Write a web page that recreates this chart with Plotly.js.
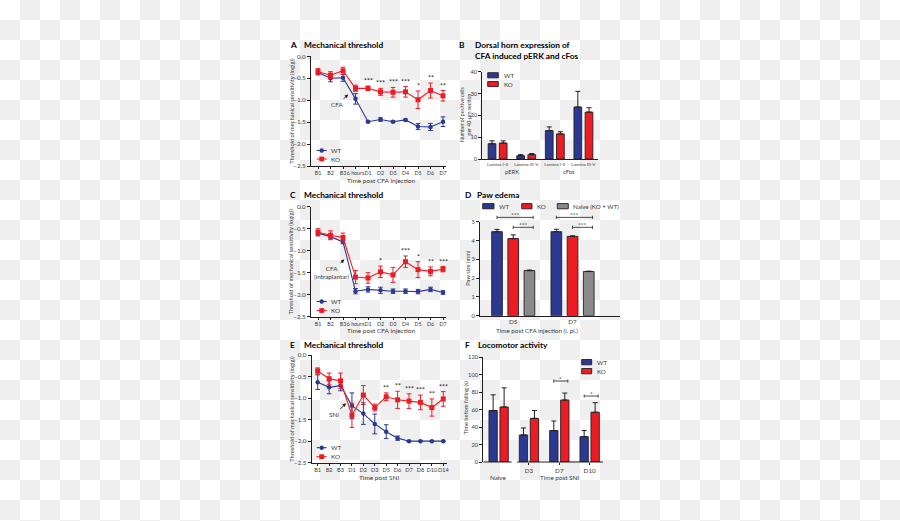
<!DOCTYPE html>
<html><head><meta charset="utf-8">
<script src="https://cdn.plot.ly/plotly-3.0.1.min.js"></script>
<style>
html,body{margin:0;padding:0;}
body{width:900px;height:521px;background-color:#fff;background-image:conic-gradient(#efefef 0 25%, #fff 0 50%, #efefef 0 75%, #fff 0);background-size:40px 40px;}
#chart{width:900px;height:521px;}
</style></head><body><div id="chart"></div>
<script>
// ---------- DATA ----------
// Panel A: Mechanical threshold after CFA
const catsA = ['B1','B2','B3','6 hours','D1','D2','D3','D4','D5','D6','D7'];
const wtA    = [-0.37,-0.50,-0.49,-0.97,-1.49,-1.44,-1.49,-1.45,-1.60,-1.61,-1.49];
const wtAerr = [0.05,0.08,0.08,0.12,0.02,0.04,0.02,0.02,0.07,0.08,0.11];
const koA    = [-0.35,-0.43,-0.33,-0.73,-0.73,-0.81,-0.82,-0.81,-0.99,-0.78,-0.90];
const koAerr = [0.07,0.08,0.08,0.07,0.05,0.08,0.11,0.12,0.20,0.17,0.12];
const sigA   = ['','','','','***','***','***','***','*','**','**'];

// Panel B: Dorsal horn expression
const labelsB = ['Lamina I-II','Lamina III-V','Lamina I-II','Lamina III-V'];
const groupsB = ['pERK','cFos'];
const wtB    = [7.0, 1.5, 13.0, 23.8];
const wtBerr = [1.3, 0.5, 1.7, 7.2];
const koB    = [7.3, 2.0, 11.5, 21.5];
const koBerr = [1.0, 0.5, 1.0, 2.0];

// Panel C: Mechanical threshold (intraplantar CFA)
const catsC = ['B1','B2','B3','6 hours','D1','D2','D3','D4','D5','D6','D7'];
const wtC    = [-0.60,-0.68,-0.80,-1.92,-1.88,-1.90,-1.92,-1.92,-1.93,-1.88,-1.95];
const wtCerr = [0.06,0.05,0.04,0.06,0.06,0.07,0.05,0.05,0.05,0.05,0.04];
const koC    = [-0.58,-0.65,-0.70,-1.60,-1.62,-1.48,-1.55,-1.25,-1.43,-1.47,-1.42];
const koCerr = [0.08,0.10,0.10,0.15,0.12,0.13,0.17,0.13,0.18,0.10,0.06];
const sigC   = ['','','','','','*','','***','*','**','***'];

// Panel D: Paw edema
const catsD = ['D5','D7'];
const wtD = [4.47, 4.47];    const wtDerr = [0.12, 0.13];
const koD = [4.10, 4.22];    const koDerr = [0.20, 0.03];
const naiveD = [2.40, 2.35]; const naiveDerr = [0.03, 0.02];
// [category index, from series, to series, bracket height (mm), label]
const bracketD = [[0,'WT','Naive',5.23,'***'],[0,'KO','Naive',4.70,'***'],
                  [1,'WT','Naive',5.23,'***'],[1,'KO','Naive',4.70,'***']];

// Panel E: Mechanical threshold after SNI
const catsE = ['B1','B2','B3','D1','D2','D3','D5','D6','D7','D8','D10','D14'];
const wtE    = [-0.63,-0.75,-0.71,-1.18,-1.36,-1.60,-1.78,-1.93,-2.00,-2.00,-2.00,-2.00];
const wtEerr = [0.17,0.15,0.12,0.30,0.25,0.23,0.16,0.05,0,0,0,0];
const koE    = [-0.37,-0.55,-0.60,-1.40,-0.93,-1.22,-0.97,-1.04,-1.07,-1.10,-1.22,-1.02];
const koEerr = [0.07,0.13,0.18,0.28,0.22,0.08,0.09,0.20,0.17,0.17,0.20,0.17];
const sigE   = ['','','','','','','**','**','***','***','**','***'];

// Panel F: Locomotor activity
const catsF = ['Naive','D3','D7','D10'];
const wtF = [59, 31, 36, 29];  const wtFerr = [18, 8, 11, 7];
const koF = [63, 50, 71, 57];  const koFerr = [22, 9, 8, 11];
const bracketF = [[2,'WT','KO',92.8,'*'],[3,'WT','KO',75.6,'*']];

// ---------- STYLE / LAYOUT ----------
const W = 900, H = 521;
const FONT = 'Lato, "Open Sans", sans-serif';
const BLUE = '#2b3990', RED = '#ed1c24', GRAY = '#8a8a8a', INK = '#231f20', TXT = '#3a3a3a';
const PX = v => v / W, PY = v => 1 - v / H;

// pixel boxes for each panel's axes
const spec = {
  A: {xd:[311,446],   xr:[-0.56,10.24], yd:[166,56.3],  yr:[-2.5,0]},
  B: {xd:[482.3,598], xr:[-0.535,3.51], yd:[159,71.7],  yr:[0,40]},
  C: {xd:[311,446],   xr:[-0.56,10.24], yd:[316.7,206.7], yr:[-2.5,0]},
  D: {xd:[480,620],   xr:[-0.56,1.8],   yd:[315.7,221.7], yr:[0,5]},
  E: {xd:[311.7,446.7], xr:[-0.525,11.3], yd:[462.7,355], yr:[-2.5,0]},
  F: {xd:[483.3,603], xr:[-0.505,3.44], yd:[462,357.3], yr:[0,120]}
};
const xp = (p, v) => { const s = spec[p]; return PX(s.xd[0] + (v - s.xr[0]) / (s.xr[1] - s.xr[0]) * (s.xd[1] - s.xd[0])); };
const yp = (p, v) => { const s = spec[p]; return PY(s.yd[0] + (v - s.yr[0]) / (s.yr[1] - s.yr[0]) * (s.yd[1] - s.yd[0])); };

function axX(p, extra) {
  const s = spec[p];
  return Object.assign({domain:[PX(s.xd[0]), PX(s.xd[1])], range:s.xr, showline:true, linecolor:INK, linewidth:1,
    ticks:'outside', ticklen:2, tickwidth:1, tickcolor:INK, showgrid:false, zeroline:false, tickangle:0,
    tickfont:{family:FONT, size:6.3, color:TXT}, fixedrange:true, automargin:false}, extra || {});
}
function axY(p, extra) {
  const s = spec[p];
  return Object.assign({domain:[PY(s.yd[0]), PY(s.yd[1])], range:s.yr, showline:true, linecolor:INK, linewidth:1,
    ticks:'outside', ticklen:3, tickwidth:1, tickcolor:INK, showgrid:false, zeroline:false,
    tickfont:{family:FONT, size:6.3, color:TXT}, fixedrange:true, automargin:false}, extra || {});
}

const traces = [];
function lineSeries(x, y, err, color, symbol, size, xa, ya) {
  traces.push({type:'scatter', mode:'lines+markers', x:x, y:y, xaxis:xa, yaxis:ya,
    line:{color:color, width:1.1}, marker:{color:color, symbol:symbol, size:size},
    error_y:{type:'data', array:err, visible:true, color:color, thickness:1, width:2.3}, cliponaxis:false});
}
function barSeries(x, y, err, color, offset, width, xa, ya) {
  traces.push({type:'bar', x:x, y:y, xaxis:xa, yaxis:ya, offset:offset, width:width,
    marker:{color:color, line:{color:INK, width:0.9}},
    error_y:{type:'data', symmetric:false, array:err, arrayminus:err.map(() => 0), visible:true, color:INK, thickness:1, width:2.5}});
}

// A
lineSeries(catsA, wtA, wtAerr, BLUE, 'circle', 4.5, 'x', 'y');
lineSeries(catsA, koA, koAerr, RED, 'square', 5, 'x', 'y');
// C
lineSeries(catsC, wtC, wtCerr, BLUE, 'circle', 4.5, 'x3', 'y3');
lineSeries(catsC, koC, koCerr, RED, 'square', 5, 'x3', 'y3');
// E
lineSeries(catsE, wtE, wtEerr, BLUE, 'circle', 4.5, 'x5', 'y5');
lineSeries(catsE, koE, koEerr, RED, 'square', 5, 'x5', 'y5');
// B
const idxB = labelsB.map((_, i) => i);
barSeries(idxB, wtB, wtBerr, BLUE, -0.33, 0.27, 'x2', 'y2');
barSeries(idxB, koB, koBerr, RED, 0.06, 0.27, 'x2', 'y2');
// D
const idxD = catsD.map((_, i) => i);
const offD = {WT:-0.273, KO:0, Naive:0.273}, wD = 0.18;
barSeries(idxD, wtD, wtDerr, BLUE, offD.WT - wD/2, wD, 'x4', 'y4');
barSeries(idxD, koD, koDerr, RED, offD.KO - wD/2, wD, 'x4', 'y4');
barSeries(idxD, naiveD, naiveDerr, GRAY, offD.Naive - wD/2, wD, 'x4', 'y4');
// F
const idxF = catsF.map((_, i) => i);
const offF = {WT:-0.181, KO:0.181}, wF = 0.274;
barSeries(idxF, wtF, wtFerr, BLUE, offF.WT - wF/2, wF, 'x6', 'y6');
barSeries(idxF, koF, koFerr, RED, offF.KO - wF/2, wF, 'x6', 'y6');

const ann = [], shapes = [];
function txt(x, y, text, size, opts) {
  ann.push(Object.assign({xref:'paper', yref:'paper', x:PX(x), y:PY(y), text:text, showarrow:false,
    xanchor:'left', yanchor:'middle', font:{family:FONT, size:size, color:TXT}}, opts || {}));
}
function panelTitle(letterX, textX, y, letter, title) {
  txt(letterX, y, '<b>' + letter + '</b>', 8.3, {font:{family:FONT, size:8.3, color:'#000'}});
  txt(textX, y, '<b>' + title + '</b>', 8.3, {font:{family:FONT, size:8.3, color:'#000'}});
}
panelTitle(288, 301.5, 45, 'A', 'Mechanical threshold');
panelTitle(457, 472.5, 45, 'B', 'Dorsal horn expression of');
txt(472.5, 55.7, '<b>CFA induced pERK and cFos</b>', 8.3, {font:{family:FONT, size:8.3, color:'#000'}});
panelTitle(288, 301.5, 195, 'C', 'Mechanical threshold');
panelTitle(463, 475, 195, 'D', 'Paw edema');
panelTitle(288, 301.5, 345, 'E', 'Mechanical threshold');
panelTitle(463, 476, 345, 'F', 'Locomotor activity');

// y-axis titles
const ythr = 'Threshold of mechanical sensitivity (log(g))';
txt(290.7, 111, ythr, 5.7, {xanchor:'center', textangle:-90});
txt(290.7, 261.7, ythr, 5.7, {xanchor:'center', textangle:-90});
txt(290.7, 409, ythr, 5.7, {xanchor:'center', textangle:-90});
txt(466, 114, 'Number of positive cells<br>per 40-μm section', 5.2, {xanchor:'center', textangle:-90});
txt(468, 268.7, 'Paw size (mm)', 5.7, {xanchor:'center', textangle:-90});
txt(464.5, 407, 'Time before falling (s)', 5.7, {xanchor:'center', textangle:-90});

// x-axis titles
txt(381, 180.6, 'Time post CFA injection', 6.5, {xanchor:'center'});
txt(381, 330.7, 'Time post CFA injection', 6.5, {xanchor:'center'});
txt(378.8, 477.7, 'Time post SNI', 6.5, {xanchor:'center'});
txt(537, 330.7, 'Time post CFA injection (i. pl.)', 6.3, {xanchor:'center'});
groupsB.forEach((g, i) => ann.push({xref:'x2', yref:'paper', x:0.5 + 2*i, y:PY(171.7), text:g, showarrow:false,
  yanchor:'middle', font:{family:FONT, size:5.8, color:TXT}}));
ann.push({xref:'x6', yref:'paper', x:0, y:PY(477.7), text:catsF[0], showarrow:false, yanchor:'middle', font:{family:FONT, size:6.3, color:TXT}});
ann.push({xref:'x6', yref:'paper', x:2, y:PY(477.7), text:'Time post SNI', showarrow:false, yanchor:'middle', font:{family:FONT, size:6.3, color:TXT}});

// significance stars on line panels
function stars(sig, ko, koErr, xa, ya) {
  sig.forEach((s, i) => { if (s) ann.push({xref:xa, yref:ya, x:i, y:ko[i] + koErr[i], text:s, showarrow:false,
    yanchor:'bottom', yshift:-1, font:{family:FONT, size:7, color:INK}}); });
}
stars(sigA, koA, koAerr, 'x', 'y');
stars(sigC, koC, koCerr, 'x3', 'y3');
stars(sigE, koE, koEerr, 'x5', 'y5');

// injection arrows
function arrow(xa, ya, x, y, ax, ay, text) {
  ann.push({xref:xa, yref:ya, x:x, y:y, ax:ax, ay:ay, text:text, showarrow:true, arrowhead:2, arrowsize:0.8,
    arrowwidth:0.9, arrowcolor:INK, standoff:0, startstandoff:1, font:{family:FONT, size:6.3, color:TXT}});
}
arrow('x', 'y', 2.42, -0.87, -11, 10, 'CFA');
arrow('x3', 'y3', 2.1, -1.195, -12.6, 13.7, 'CFA<br>(intraplantar)');
arrow('x5', 'y5', 2.48, -1.12, -11.7, 11.7, 'SNI');

// significance brackets D (above plot area -> paper coords from the D scale)
bracketD.forEach(([g, a, b, h, t]) => {
  const x0 = xp('D', g + offD[a]), x1 = xp('D', g + offD[b] + 0.064), y = yp('D', h), c = 1.6 / H;
  shapes.push({type:'line', xref:'paper', yref:'paper', x0:x0, x1:x1, y0:y, y1:y, line:{color:INK, width:0.8}});
  shapes.push({type:'line', xref:'paper', yref:'paper', x0:x0, x1:x0, y0:y - c, y1:y + c, line:{color:INK, width:0.8}});
  shapes.push({type:'line', xref:'paper', yref:'paper', x0:x1, x1:x1, y0:y - c, y1:y + c, line:{color:INK, width:0.8}});
  ann.push({xref:'paper', yref:'paper', x:(x0 + x1) / 2, y:y, text:t, showarrow:false, yanchor:'bottom', yshift:-2.5,
    font:{family:FONT, size:6.5, color:INK}});
});
// significance brackets F
bracketF.forEach(([g, a, b, h, t]) => {
  const x0 = g + offF[a], x1 = g + offF[b] + 0.1, c = 1.8;
  shapes.push({type:'line', xref:'x6', yref:'y6', x0:x0, x1:x1, y0:h, y1:h, line:{color:INK, width:0.8}});
  shapes.push({type:'line', xref:'x6', yref:'y6', x0:x0, x1:x0, y0:h - c, y1:h + c, line:{color:INK, width:0.8}});
  shapes.push({type:'line', xref:'x6', yref:'y6', x0:x1, x1:x1, y0:h - c, y1:h + c, line:{color:INK, width:0.8}});
  ann.push({xref:'x6', yref:'y6', x:(x0 + x1) / 2, y:h, text:t, showarrow:false, yanchor:'bottom', yshift:-2.5,
    font:{family:FONT, size:6.5, color:INK}});
});
// broken x-axis in F
shapes.push({type:'line', xref:'x6', yref:'y6 domain', x0:spec.F.xr[0], x1:0.43, y0:0, y1:0, line:{color:INK, width:1}});
shapes.push({type:'line', xref:'x6', yref:'y6 domain', x0:0.61, x1:spec.F.xr[1], y0:0, y1:0, line:{color:INK, width:1}});

// legends
function legLine(x0, x1, y, color, sym, label) {
  shapes.push({type:'line', xref:'paper', yref:'paper', x0:PX(x0), x1:PX(x1), y0:PY(y), y1:PY(y), line:{color:color, width:1.1}});
  const r = sym === 'circle' ? 2.2 : 2.4;
  shapes.push({type:sym === 'circle' ? 'circle' : 'rect', xref:'paper', yref:'paper', xsizemode:'pixel', ysizemode:'pixel',
    xanchor:PX((x0 + x1) / 2), yanchor:PY(y), x0:-r, x1:r, y0:-r, y1:r, fillcolor:color, line:{width:0}});
  txt(x1 + 2.5, y, label, 6.3);
}
function legBox(x0, x1, y0, y1, color, label, tx) {
  shapes.push({type:'rect', xref:'paper', yref:'paper', x0:PX(x0), x1:PX(x1), y0:PY(y1), y1:PY(y0),
    fillcolor:color, line:{color:INK, width:0.9}});
  txt(tx, (y0 + y1) / 2, label, 6.2);
}
legLine(316.7, 326.7, 150.5, BLUE, 'circle', 'WT');
legLine(316.7, 326.7, 159, RED, 'square', 'KO');
legLine(316.7, 326.7, 301.5, BLUE, 'circle', 'WT');
legLine(316.7, 326.7, 310.5, RED, 'square', 'KO');
legLine(316.7, 326.7, 447.7, BLUE, 'circle', 'WT');
legLine(316.7, 326.7, 456.7, RED, 'square', 'KO');
legBox(487.7, 498.3, 72.7, 77.8, BLUE, 'WT', 501.7);
legBox(487.7, 498.3, 81.5, 86.6, RED, 'KO', 501.7);
legBox(482.7, 494, 203.6, 208.8, BLUE, 'WT', 497.3);
legBox(521.7, 532, 203.6, 208.8, RED, 'KO', 535);
legBox(557.3, 568.3, 203.6, 208.8, GRAY, 'Naive (KO + WT)', 571);
legBox(581.7, 591.7, 359.5, 364.8, BLUE, 'WT', 595);
legBox(581.7, 591.7, 368.5, 373.8, RED, 'KO', 595);

const smallX = {family:FONT, size:5.3, color:TXT};
const layout = {
  width:W, height:H, margin:{l:0, r:0, t:0, b:0}, showlegend:false, barmode:'overlay',
  paper_bgcolor:'rgba(0,0,0,0)', plot_bgcolor:'rgba(0,0,0,0)', font:{family:FONT, color:TXT},
  xaxis:  axX('A', {type:'category', anchor:'y', tickfont:smallX}),
  yaxis:  axY('A', {anchor:'x', tickvals:[0,-0.5,-1,-1.5,-2,-2.5], tickformat:'.1f'}),
  xaxis2: axX('B', {anchor:'y2', tickvals:idxB, ticktext:labelsB, ticks:'', tickfont:{family:FONT, size:4.6, color:TXT}}),
  yaxis2: axY('B', {anchor:'x2', tickvals:[0,10,20,30,40], tickfont:{family:FONT, size:5.8, color:TXT}}),
  xaxis3: axX('C', {type:'category', anchor:'y3', tickfont:smallX}),
  yaxis3: axY('C', {anchor:'x3', tickvals:[0,-0.5,-1,-1.5,-2,-2.5], tickformat:'.1f'}),
  xaxis4: axX('D', {anchor:'y4', tickvals:idxD, ticktext:catsD, ticks:''}),
  yaxis4: axY('D', {anchor:'x4', tickvals:[0,1,2,3,4,5], tickfont:{family:FONT, size:5.8, color:TXT}}),
  xaxis5: axX('E', {type:'category', anchor:'y5', tickfont:{family:FONT, size:5.6, color:TXT}}),
  yaxis5: axY('E', {anchor:'x5', tickvals:[0,-0.5,-1,-1.5,-2,-2.5], tickformat:'.1f'}),
  xaxis6: axX('F', {anchor:'y6', showline:false, tickvals:idxF.slice(1), ticktext:catsF.slice(1)}),
  yaxis6: axY('F', {anchor:'x6', tickvals:[0,20,40,60,80,100,120], tickfont:{family:FONT, size:5.8, color:TXT}}),
  annotations:ann, shapes:shapes
};
Plotly.newPlot('chart', traces, layout, {staticPlot:true, displayModeBar:false});
</script></body></html>
